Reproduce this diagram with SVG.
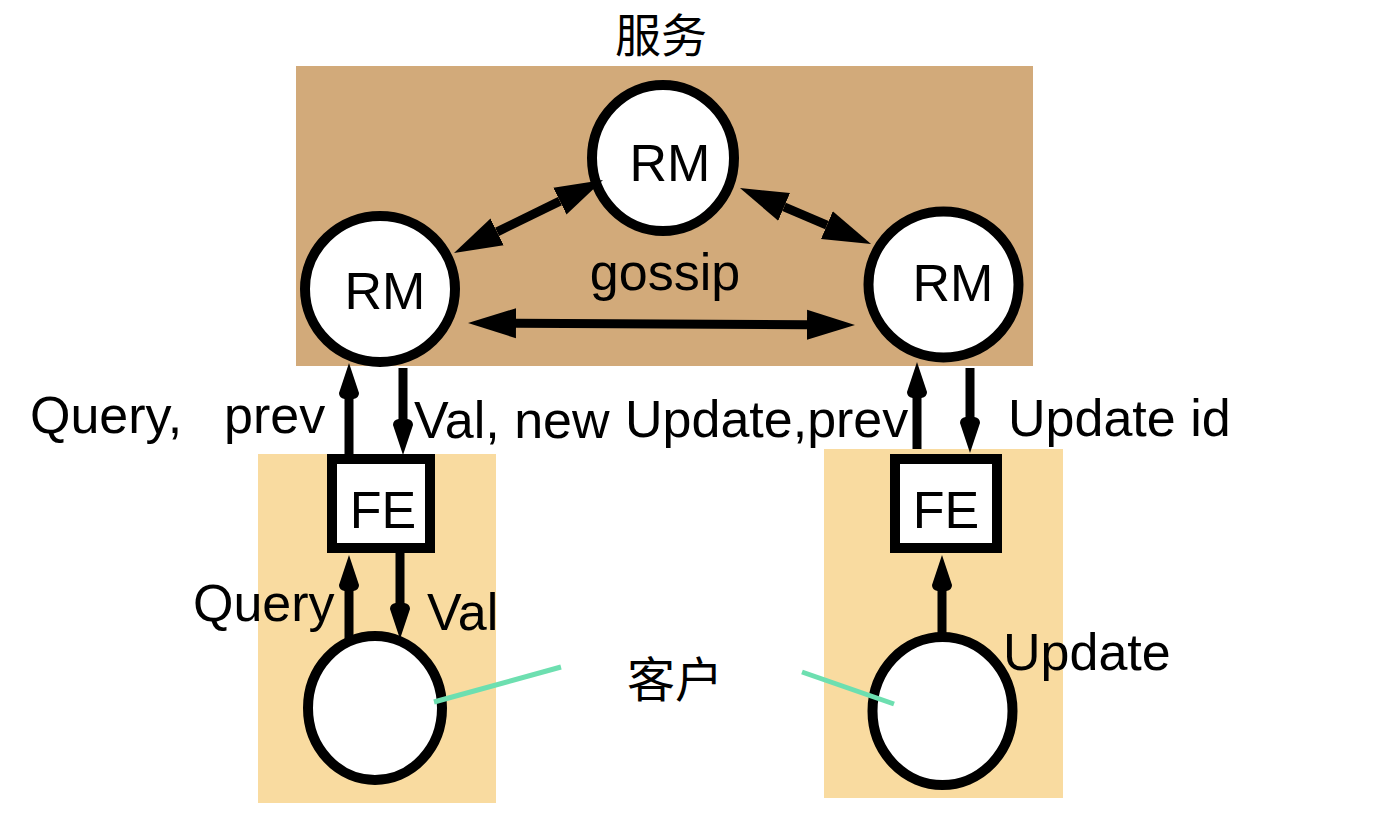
<svg xmlns="http://www.w3.org/2000/svg" width="1382" height="818" viewBox="0 0 1382 818">
<style>
.lbl{font-family:"Liberation Sans",Arial,sans-serif;font-size:52px;fill:#000}
.cjk{font-family:"Noto Sans CJK SC","Noto Sans CJK JP",sans-serif;font-size:48px;fill:#000}
.node{fill:#fff;stroke:#000;stroke-width:10}
.big{stroke:#000;stroke-width:9;fill:none;marker-start:url(#hb);marker-end:url(#hb)}
.thin{stroke:#000;stroke-width:9;fill:none;marker-end:url(#ht)}
.lead{stroke:#6DDFB0;stroke-width:5;fill:none}
</style>
<defs>
<marker id="hb" viewBox="0 -16 50 32" markerWidth="50" markerHeight="32" refX="0" refY="0" orient="auto-start-reverse" markerUnits="userSpaceOnUse">
<path d="M0,-15 L48,0 L0,15 Z" fill="#000"/>
</marker>
<marker id="ht" viewBox="0 -12 40 24" markerWidth="40" markerHeight="24" refX="0" refY="0" orient="auto" markerUnits="userSpaceOnUse">
<path d="M0,-4.5 Q1,-10 6,-10 L36,0 L6,10 Q1,10 0,4.5 Z" fill="#000"/>
</marker>
</defs>
<rect width="1382" height="818" fill="#fff"/>
<g id="service">
<rect x="296" y="66" width="737" height="300" fill="#D2AA7A"/>
<text class="cjk" x="615" y="52" style="font-size:46px">服务</text>
</g>
<g id="client-left-area"><rect x="258" y="454" width="238" height="349" fill="#F9DBA0"/></g>
<g id="client-right-area"><rect x="824" y="449" width="239" height="349" fill="#F9DBA0"/></g>
<g id="rm-top"><ellipse class="node" cx="663" cy="158" rx="71" ry="73"/><text class="lbl" x="670" y="181" text-anchor="middle">RM</text></g>
<g id="rm-left"><ellipse class="node" cx="380" cy="289" rx="75" ry="73"/><text class="lbl" x="385" y="309" text-anchor="middle">RM</text></g>
<g id="rm-right"><ellipse class="node" cx="943.5" cy="284.5" rx="75" ry="73"/><text class="lbl" x="953" y="301" text-anchor="middle">RM</text></g>
<g id="fe-left"><rect class="node" x="332" y="459" width="98" height="89"/><text class="lbl" x="383" y="528" text-anchor="middle">FE</text></g>
<g id="fe-right"><rect class="node" x="895" y="459" width="102" height="89"/><text class="lbl" x="946" y="528" text-anchor="middle">FE</text></g>
<g id="client-left"><ellipse class="node" cx="375" cy="708" rx="67" ry="72"/></g>
<g id="client-right"><ellipse class="node" cx="942.5" cy="711" rx="70" ry="74"/></g>
<g id="connectors">
<line class="big" x1="516" y1="323.2" x2="807" y2="324.8"/>
<line class="big" x1="497.1" y1="231.9" x2="559.9" y2="201.1"/>
<line class="big" x1="784.1" y1="206.9" x2="826.9" y2="225.1"/>
<line class="thin" x1="349" y1="455" x2="349" y2="399"/>
<line class="thin" x1="403" y1="368" x2="403" y2="419"/>
<line class="thin" x1="917" y1="449" x2="917" y2="398"/>
<line class="thin" x1="970" y1="368" x2="970" y2="417"/>
<line class="thin" x1="349" y1="640" x2="349" y2="591"/>
<line class="thin" x1="400" y1="553" x2="400" y2="603"/>
<line class="thin" x1="942" y1="634" x2="942" y2="591"/>
<line class="lead" x1="434" y1="702" x2="561" y2="667"/>
<line class="lead" x1="802" y1="672" x2="894" y2="704"/>
</g>
<g id="labels">
<text class="lbl" x="665" y="290" text-anchor="middle">gossip</text>
<text class="lbl" x="30" y="433">Query,<tspan x="224">prev</tspan></text>
<text class="lbl" x="414" y="438">Val, new</text>
<text class="lbl" x="625" y="437">Update,prev</text>
<text class="lbl" x="1008" y="436">Update id</text>
<text class="lbl" x="193" y="621">Query</text>
<text class="lbl" x="427" y="630">Val</text>
<text class="lbl" x="1003" y="670">Update</text>
<text class="cjk" x="627" y="697">客户</text>
</g>
</svg>
